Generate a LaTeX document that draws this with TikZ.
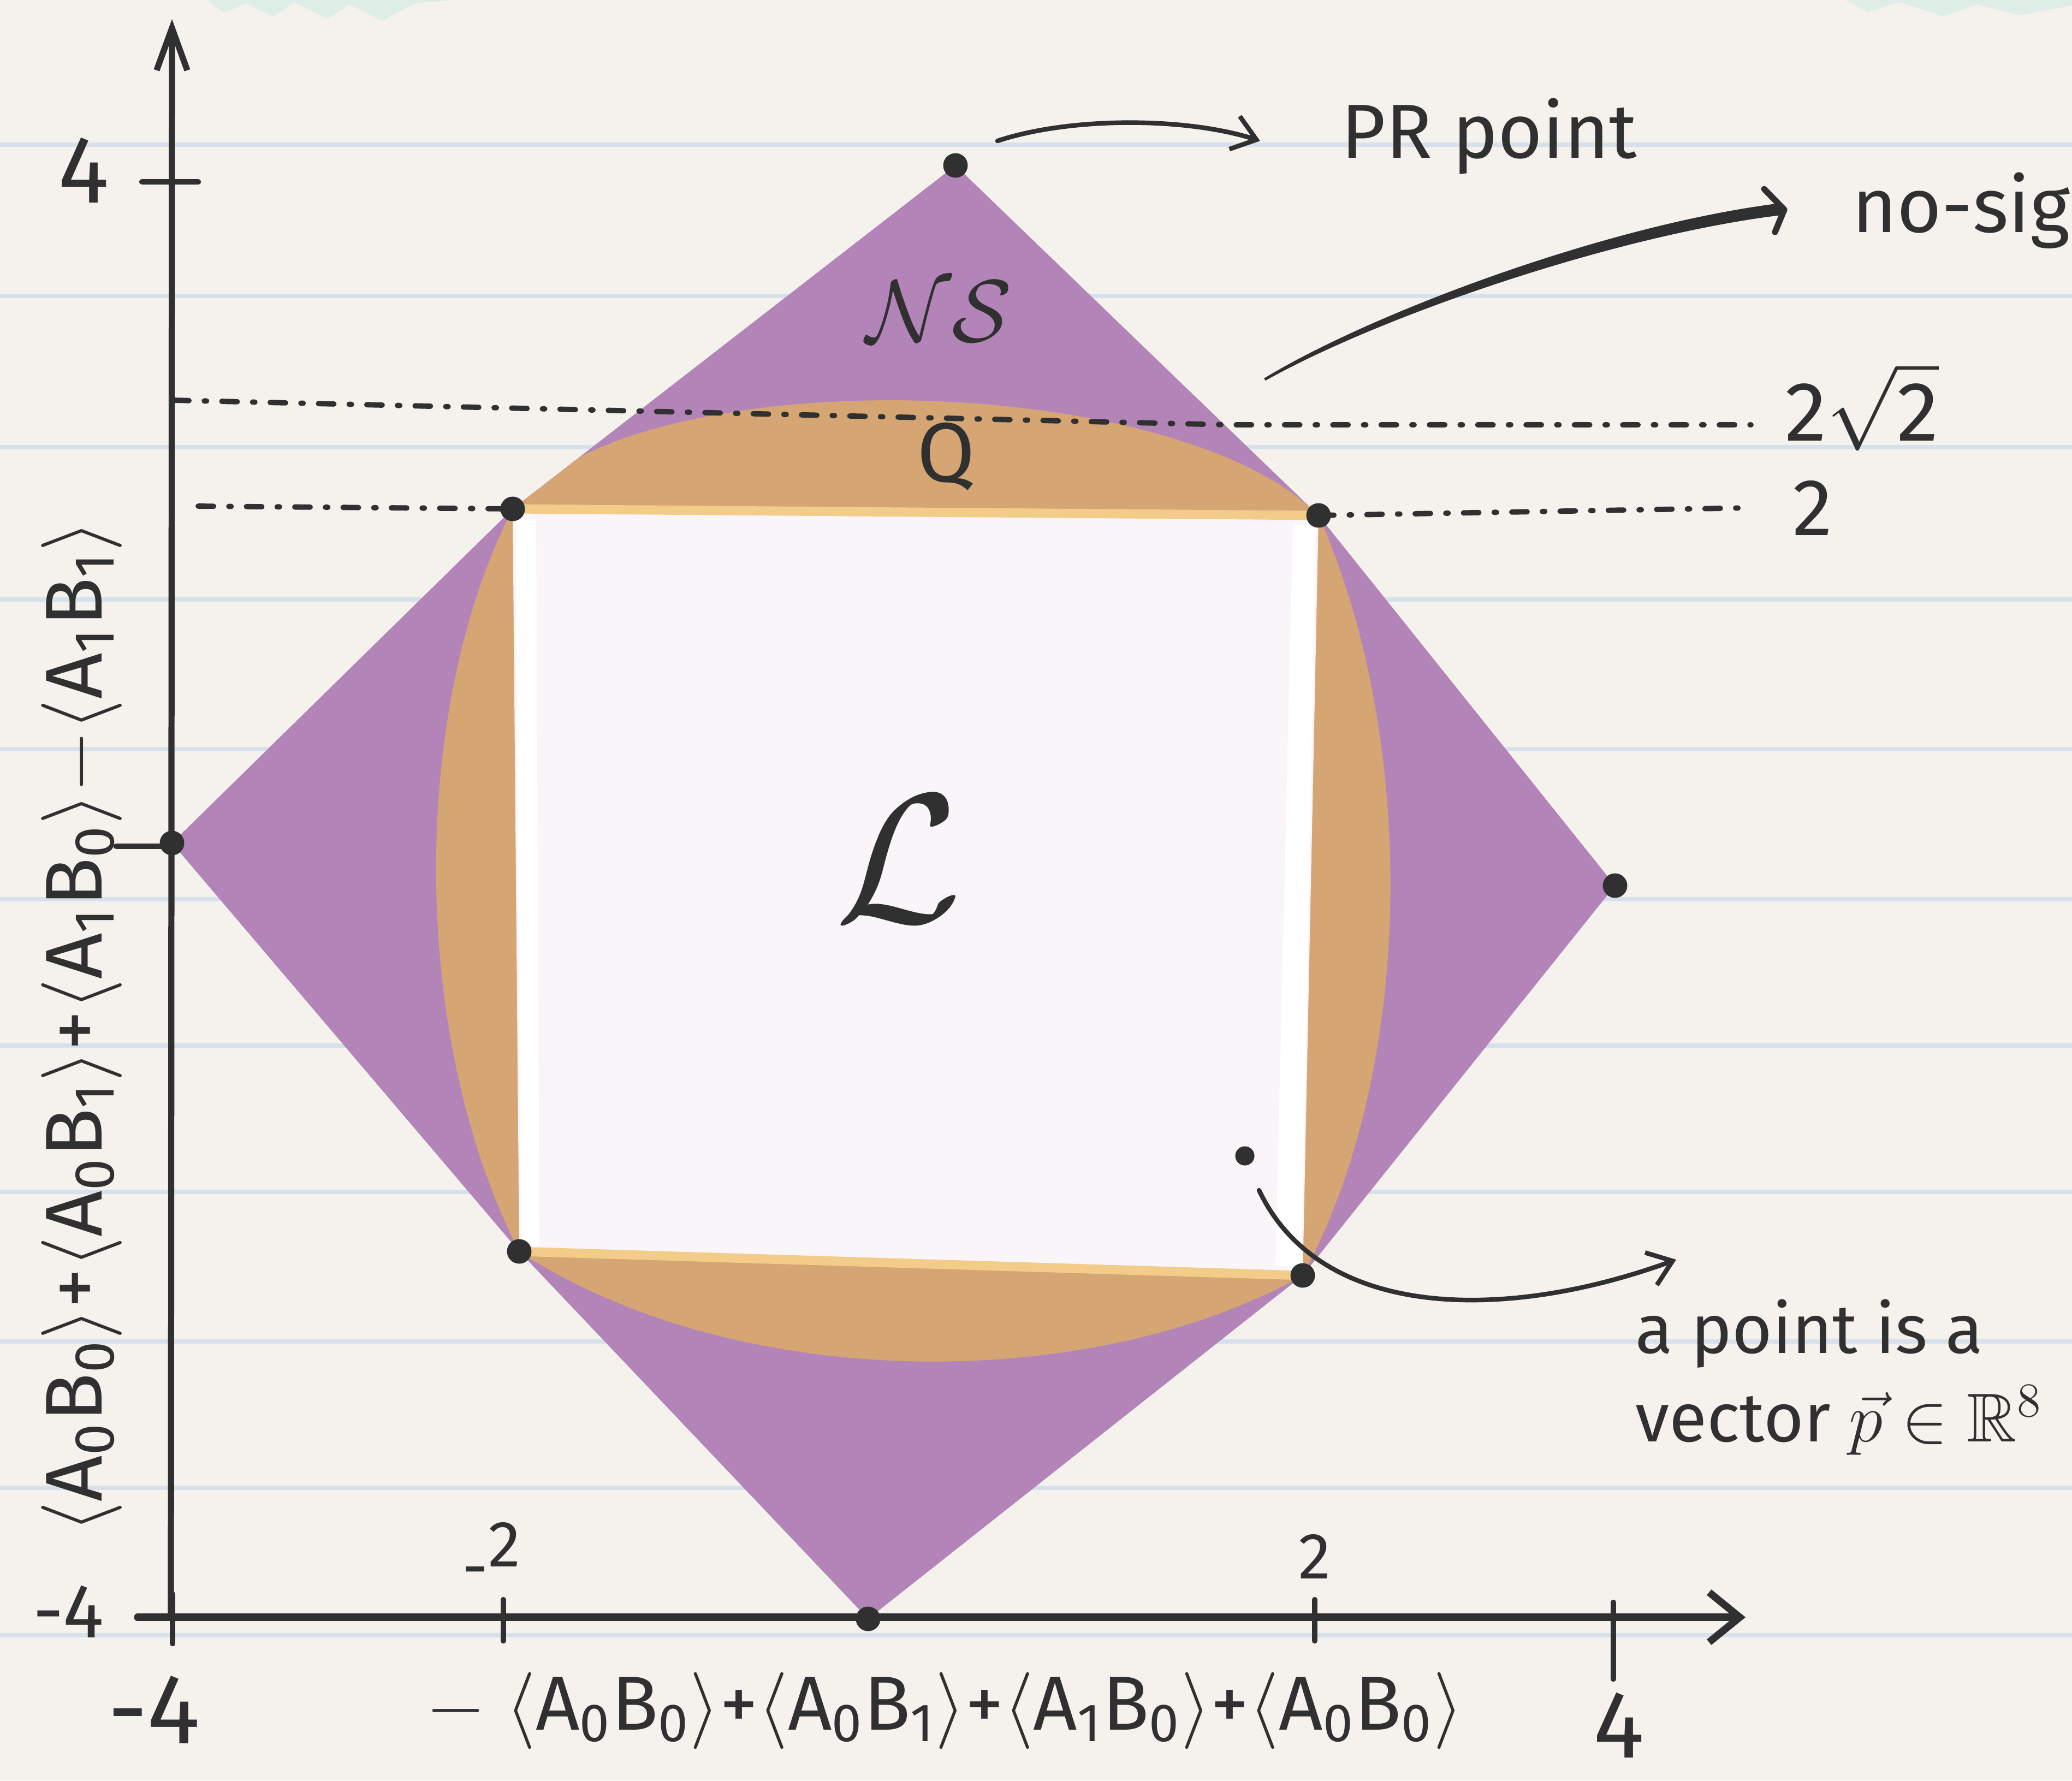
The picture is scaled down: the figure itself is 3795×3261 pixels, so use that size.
\RequirePackage{fix-cm}
\documentclass[tikz,border=0pt]{standalone}
\usepackage{amssymb}
\usepackage{fontspec}
\setmainfont{Fira Sans}
\usetikzlibrary{arrows.meta}

\definecolor{paper}{RGB}{245,242,238}
\definecolor{rulec}{RGB}{214,225,236}
\definecolor{mint}{RGB}{222,237,229}
\definecolor{nsc}{RGB}{179,132,183}
\definecolor{qc}{RGB}{213,166,116}
\definecolor{qlight}{RGB}{244,204,138}
\definecolor{lc}{RGB}{249,245,249}
\definecolor{inkc}{RGB}{48,48,48}

\newcommand{\fsz}[1]{\fontsize{#1}{#1}\selectfont}
\newcommand{\cor}[2]{$\langle$A\textsubscript{#1}B\textsubscript{#2}$\rangle$}

\begin{document}
\begin{tikzpicture}[x=0.005cm, y=-0.005cm,
    ink/.style      = {draw=inkc, line cap=round, line join=round},
    axis/.style     = {ink, line width=1.6pt},
    tick/.style     = {ink, line width=1.5pt},
    guide/.style    = {ink, line width=1.4pt, dash pattern=on 4pt off 4pt on 0.6pt off 4pt},
    dot/.style      = {circle, fill=inkc, inner sep=0pt, minimum size=6.4pt},
    callout/.style  = {ink, line width=1.2pt, -{Straight Barb[length=6pt,width=9pt]}},
    lbl/.style      = {text=inkc, inner sep=0pt},
  ]
  % papel
  \fill[paper] (0,0) rectangle (3795,3261);
  \useasboundingbox (0,0) rectangle (3795,3261);
  \clip (0,0) rectangle (3795,3261);
  \foreach \y in {265,542,819,1098,1372,1647,1915,2183,2457,2725,2995}
    \draw[rulec, line width=1.1pt] (0,\y) -- (3795,\y);
  \fill[mint] (380,0) -- (410,24) -- (450,6) -- (500,30) -- (540,4) -- (600,34)
    -- (640,8) -- (700,38) -- (760,6) -- (830,0) -- cycle;
  \fill[mint] (3380,0) -- (3420,22) -- (3480,4) -- (3560,30) -- (3620,8)
    -- (3700,28) -- (3795,10) -- (3795,0) -- cycle;

  % vertices
  \coordinate (vL) at (315,1544);
  \coordinate (vT) at (1750,303);
  \coordinate (vR) at (2958,1622);
  \coordinate (vB) at (1590,2965);
  \coordinate (cTL) at (939,932);
  \coordinate (cTR) at (2415,944);
  \coordinate (cBR) at (2386,2336);
  \coordinate (cBL) at (951,2292);

  % NS
  \fill[nsc] (vL) -- (cTL) -- (vT) -- (cTR) -- (vR) -- (cBR) -- (vB) -- (cBL) -- cycle;
  % Q
  \begin{scope}
    \clip (vL) -- (cTL) -- (vT) -- (cTR) -- (vR) -- (cBR) -- (vB) -- (cBL) -- cycle;
    \fill[qc] (cTL) .. controls (1150,655) and (2150,675) .. (cTR)
      .. controls (2595,1350) and (2595,1950) .. (cBR)
      .. controls (2000,2553) and (1350,2553) .. (cBL)
      .. controls (750,1900) and (750,1300) .. (cTL) -- cycle;
  \end{scope}
  % L
  \fill[lc] (cTL) -- (cTR) -- (cBR) -- (cBL) -- cycle;
  \draw[qlight, line width=2.4pt] (cTL) -- (cTR) (cBL) -- (cBR);
  \fill[white] (944,950) -- (982,950) -- (988,2282) -- (954,2282) -- cycle;
  \fill[white] (2368,962) -- (2410,962) -- (2384,2318) -- (2336,2318) -- cycle;

  % lineas 2 sqrt2 y 2
  \coordinate (g22a) at (318,733);
  \coordinate (g22m) at (2250,778);
  \coordinate (g22b) at (3207,778);
  \draw[guide] (g22a) -- (g22m) -- (g22b);
  \coordinate (g2a) at (363,927);
  \coordinate (g2b) at (3210,930);
  \draw[guide] (g2a) -- (cTL);
  \draw[guide] (cTR) -- (g2b);

  % ejes
  \coordinate (O) at (313,2962);
  \coordinate (yEnd) at (315,35);
  \coordinate (xStart) at (252,2962);
  \coordinate (xEnd) at (3197,2962);
  \draw[axis, -{Straight Barb[length=11pt,width=8pt]}] (O) -- (yEnd);
  \draw[axis, line width=1.9pt, -{Straight Barb[length=8pt,width=13pt]}] (xStart) -- (xEnd);
  \foreach \x/\a/\b in {316/2920/3010, 922/2930/3005, 2408/2930/3005, 2955/2935/3075}
    \draw[tick] (\x,\a) -- (\x,\b);
  \draw[tick] (260,333) -- (363,333);
  \draw[tick] (213,1550) -- (310,1550);

  % puntos
  \foreach \p in {vL,vT,vR,vB,cTL,cTR,cBR,cBL}
    \node[dot] (d\p) at (\p) {};
  \node[dot, minimum size=5pt] (pt) at (2280,2117) {};

  % flechas
  \coordinate (prA) at (1827,258);
  \coordinate (prB) at (2308,258);
  \draw[callout] (prA) .. controls (1960,214) and (2170,214) .. (prB);
  \coordinate (nsA) at (2315,693);
  \coordinate (nsB) at (3268,384);
  \fill[inkc] (nsA) .. controls (2518,570) and (2950,410) .. (3262,372)
    -- (3262,394) .. controls (2952,432) and (2522,582) .. (2318,697) -- cycle;
  \draw[ink, line width=1.6pt] (3231,346) -- (nsB) -- (3251,425);
  \coordinate (ptA) at (2306,2180);
  \coordinate (ptB) at (3070,2307);
  \draw[callout] (ptA) .. controls (2420,2420) and (2760,2420) .. (ptB);

  % textos
  \node[lbl, font=\fsz{20pt}, anchor=west] (prlbl) at (2455,250) {PR point};
  \node[lbl, font=\fsz{20pt}, anchor=base west] (nslbl) at (3391,425) {no-signalling};
  \node[lbl, font=\fsz{18pt}, anchor=base west] (vecA) at (2994,2478) {a point is a};
  \node[lbl, font=\fsz{18pt}, anchor=base west] (vecB) at (2994,2640) {vector $\vec{p}\in\mathbb{R}^8$};
  \node[lbl, font=\fsz{23pt}] (NS) at (1720,570) {$\mathcal{NS}$};
  \node[lbl, font=\fsz{22pt}] (Q) at (1733,836) {Q};
  \node[lbl, font=\fsz{48pt}] (L) at (1646,1573) {$\mathcal{L}$};
  \node[lbl, font=\fsz{22pt}] (r22) at (3410,745) {2$\sqrt{\mbox{2}}$};
  \node[lbl, font=\fsz{21pt}] (r2) at (3320,930) {2};
  \node[lbl, font=\fsz{25pt}] (y4) at (153,312) {4};
  \node[lbl, font=\fsz{20pt}] (ym4) at (125,2952) {-4};
  \node[lbl, font=\fsz{26pt}] (xm4) at (282,3131) {-4};
  \node[lbl, font=\fsz{17pt}] (xm2) at (900,2850) {\raisebox{-.35em}{-}2};
  \node[lbl, font=\fsz{17pt}] (x2) at (2408,2851) {2};
  \node[lbl, font=\fsz{25pt}] (x4) at (2965,3160) {4};
  \node[lbl, font=\fsz{20pt}] (xlbl) at (1730,3133) {$-$\ \cor00+\cor01+\cor10+\cor00};
  \node[lbl, font=\fsz{21pt}, rotate=90] (ylbl) at (150,1880) {\cor00+\cor01+\cor10$-$\cor11};
\end{tikzpicture}
\end{document}
